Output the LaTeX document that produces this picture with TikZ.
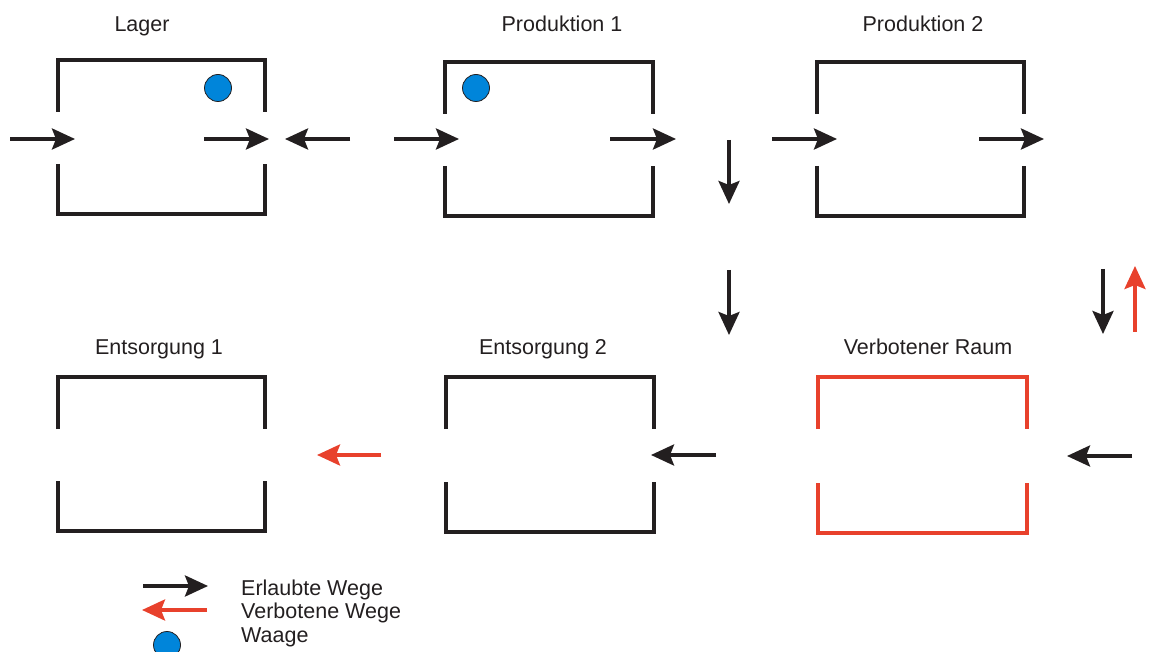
\documentclass[tikz,border=0pt]{standalone}
\usepackage{fontspec}
\setmainfont{Liberation Sans}
\usetikzlibrary{arrows.meta}
\definecolor{ink}{HTML}{231F20}
\definecolor{forbid}{HTML}{E8412C}
\definecolor{scale}{HTML}{0085DA}
\newcommand\roomframe[5]{%
  \draw[#5] (#1,#2+52) -- (#1,#2) -- (#3,#2) -- (#3,#2+52);
  \draw[#5] (#1,#4-50) -- (#1,#4) -- (#3,#4) -- (#3,#4-50);}
\begin{document}
\begin{tikzpicture}[x=1pt,y=-1pt,
  wall/.style={line width=3.6pt, ink, line join=miter},
  redwall/.style={line width=3.6pt, forbid, line join=miter},
  ok/.style={line width=3.6pt, ink, -{Stealth[length=23pt,width=21pt,inset=4pt]}},
  bad/.style={line width=3.6pt, forbid, -{Stealth[length=23pt,width=21pt,inset=4pt]}},
  waage/.style={circle, fill=scale, draw=ink, line width=0.8pt, minimum size=27pt, inner sep=0pt},
  lbl/.style={anchor=base, text=ink, inner sep=0pt, font=\fontsize{21.5}{24}\selectfont},
  leg/.style={anchor=base west, text=ink, inner sep=0pt, font=\fontsize{21.5}{24}\selectfont}]
\useasboundingbox (0,0) rectangle (1152,652);
\begin{scope}
\clip (0,0) rectangle (1152,652);
% rooms
\roomframe{58}{60}{265}{214}{wall}
\roomframe{445}{62}{653}{216}{wall}
\roomframe{817}{62}{1024}{216}{wall}
\roomframe{58}{377}{265}{531}{wall}
\roomframe{446}{377}{654}{532}{wall}
\roomframe{818}{377}{1027}{533}{redwall}
% labels
\node[lbl] (lager) at (142,32) {Lager};
\node[lbl] (prod1) at (562,32) {Produktion 1};
\node[lbl] (prod2) at (923,32) {Produktion 2};
\node[lbl] (ents1) at (159,355) {Entsorgung 1};
\node[lbl] (ents2) at (543,355) {Entsorgung 2};
\node[lbl] (verb) at (928,355) {Verbotener Raum};
% scales
\node[waage] (w1) at (218,88) {};
\node[waage] (w2) at (476,88) {};
% arrow coordinates
\coordinate (a1s) at (10,139);   \coordinate (a1e) at (75,139);
\coordinate (a2s) at (204,139);  \coordinate (a2e) at (269,139);
\coordinate (a3s) at (350,139);  \coordinate (a3e) at (285,139);
\coordinate (a4s) at (394,139);  \coordinate (a4e) at (459,139);
\coordinate (a5s) at (610,139);  \coordinate (a5e) at (676,139);
\coordinate (a6s) at (729,140);  \coordinate (a6e) at (729,204);
\coordinate (a7s) at (772,139);  \coordinate (a7e) at (837,139);
\coordinate (a8s) at (979,139);  \coordinate (a8e) at (1044,139);
\coordinate (a9s) at (729,270);  \coordinate (a9e) at (729,335);
\coordinate (a10s) at (1103,269); \coordinate (a10e) at (1103,334);
\coordinate (a11s) at (1135,332); \coordinate (a11e) at (1135,266);
\coordinate (a12s) at (381,455); \coordinate (a12e) at (317,455);
\coordinate (a13s) at (716,455); \coordinate (a13e) at (651,455);
\coordinate (a14s) at (1132,456); \coordinate (a14e) at (1067,456);
\draw[ok] (a1s) -- (a1e);
\draw[ok] (a2s) -- (a2e);
\draw[ok] (a3s) -- (a3e);
\draw[ok] (a4s) -- (a4e);
\draw[ok] (a5s) -- (a5e);
\draw[ok] (a6s) -- (a6e);
\draw[ok] (a7s) -- (a7e);
\draw[ok] (a8s) -- (a8e);
\draw[ok] (a9s) -- (a9e);
\draw[ok] (a10s) -- (a10e);
\draw[bad] (a11s) -- (a11e);
\draw[bad] (a12s) -- (a12e);
\draw[ok] (a13s) -- (a13e);
\draw[ok] (a14s) -- (a14e);
% legend
\coordinate (l1s) at (143,586); \coordinate (l1e) at (208,586);
\coordinate (l2s) at (207,610); \coordinate (l2e) at (142,610);
\draw[ok] (l1s) -- (l1e);
\draw[bad] (l2s) -- (l2e);
\node[waage] (lw) at (167,645) {};
\node[leg] (t1) at (241,595) {Erlaubte Wege};
\node[leg] (t2) at (241,618) {Verbotene Wege};
\node[leg] (t3) at (241,642) {Waage};
\end{scope}
\end{tikzpicture}
\end{document}
